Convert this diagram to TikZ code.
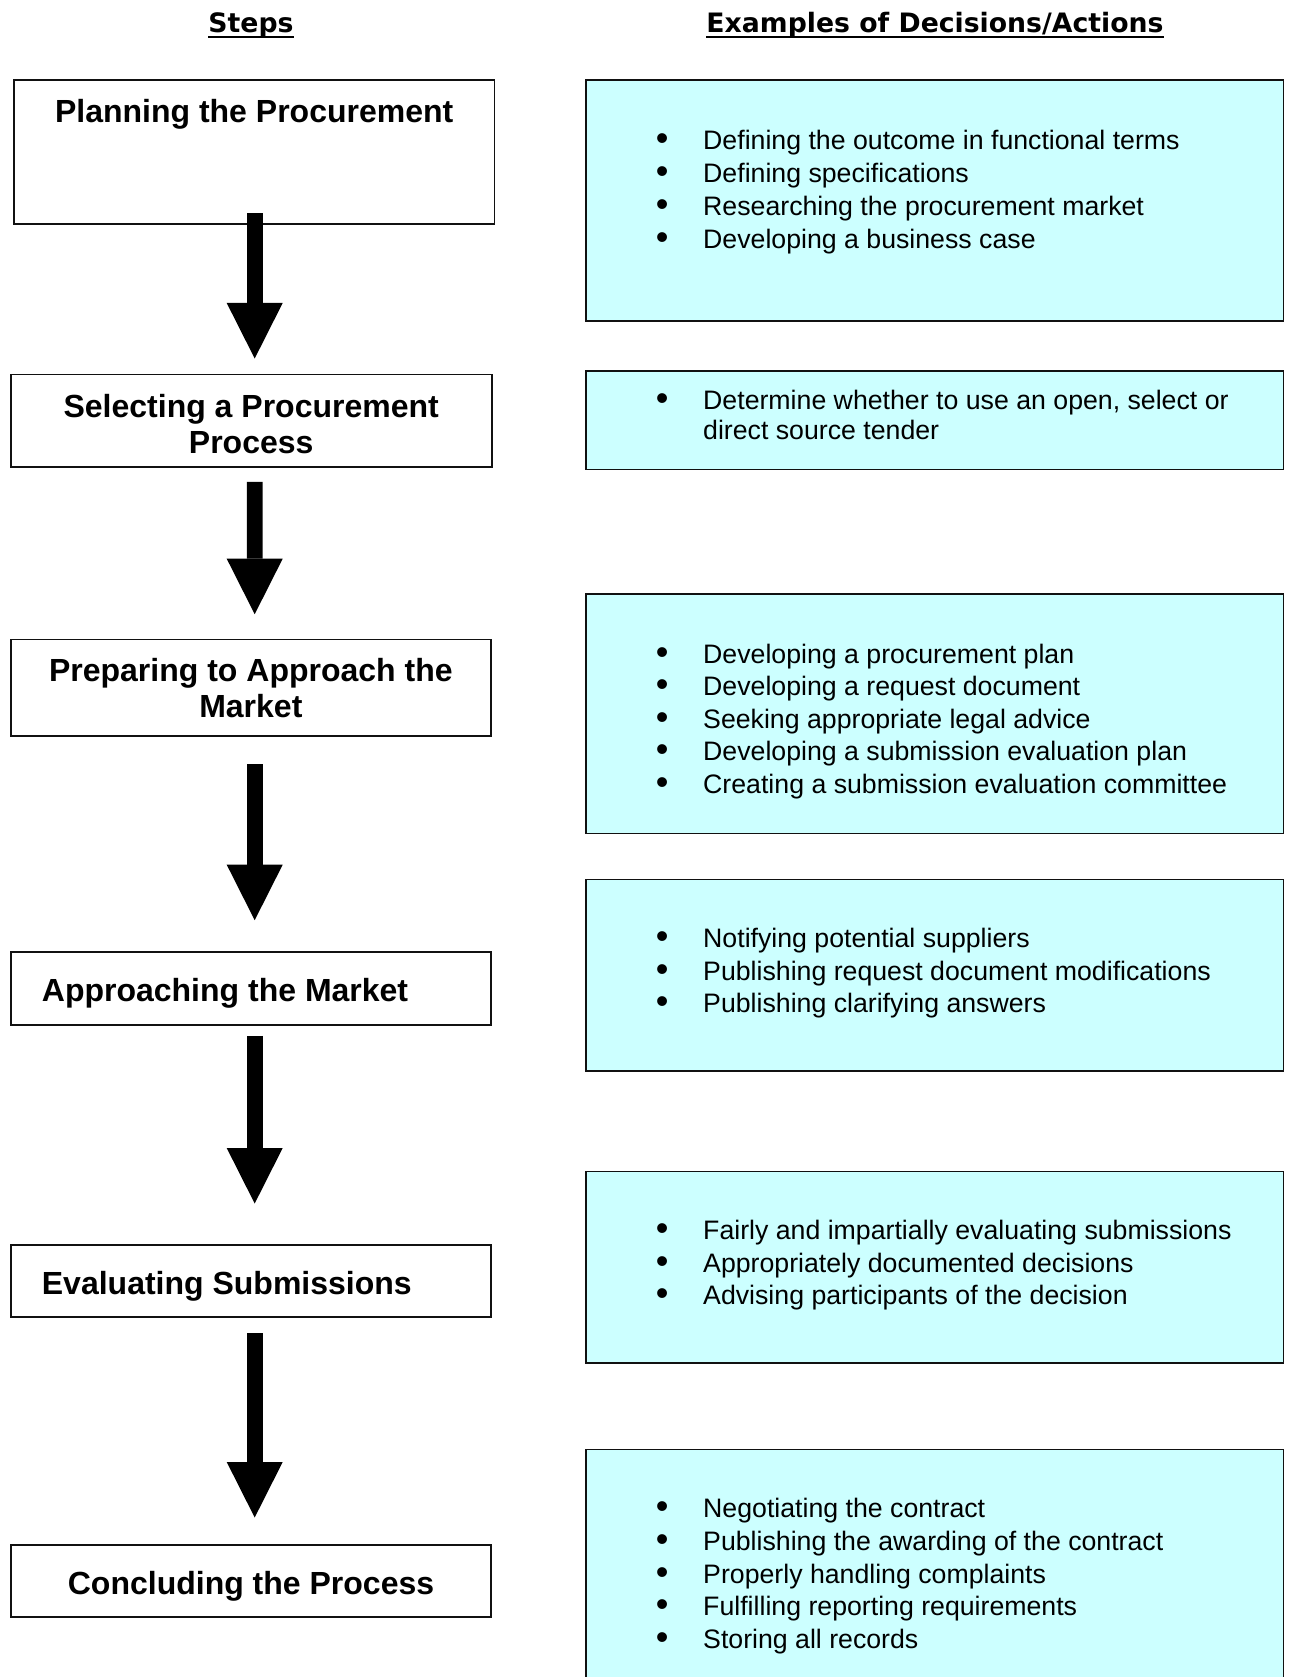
\documentclass[tikz,border=0pt]{standalone}
\usepackage{fontspec}
\setmainfont{Liberation Sans}
\newfontfamily\hdrfont{DejaVu Sans}
\usetikzlibrary{arrows.meta}
\definecolor{actfill}{HTML}{CCFFFF}
\definecolor{boxline}{HTML}{111111}
\newcommand{\bul}{\makebox[82pt][c]{\raisebox{-1pt}{\scalebox{1.35}{•}}}}
\newcommand{\nobul}{\hspace*{82pt}}
\newcommand{\ilist}[2]{\vtop{\baselineskip=#1\relax #2}}
\newcommand{\ctwo}[2]{\vtop{\baselineskip=36.8pt\relax\halign{\hfil##\hfil\cr#1\cr#2\cr}}}
\begin{document}
\begin{tikzpicture}[x=1pt,y=-1pt,
  stepbox/.style={draw=boxline, line width=1.6pt, fill=white, inner sep=0pt},
  actbox/.style={draw=boxline, line width=1.6pt, fill=actfill, inner sep=0pt,
    minimum width=697.4pt},
  hdr/.style={anchor=base, inner sep=0pt, font=\hdrfont\bfseries\fontsize{26.7}{30}\selectfont},
  ttl/.style={anchor=base, inner sep=0pt, font=\bfseries\fontsize{32}{36.8}\selectfont},
  itm/.style={anchor=base west, inner sep=0pt, font=\fontsize{26.7}{30.7}\selectfont},
  bigarrow/.style={line width=15.7pt, black,
    -{Triangle[length=55.5pt,width=56pt,line width=0pt]}}
]
\useasboundingbox (0,0) rectangle (1290,1677);
\clip (0,0) rectangle (1290,1677);
\fill[white] (0,0) rectangle (1290,1677);

% headers
\node[hdr] (hs) at (251,33) {Steps};
\node[hdr] (he) at (935,33) {Examples of Decisions/Actions};
\draw[line width=2pt] ([yshift=-4pt]hs.base west) -- ([yshift=-4pt]hs.base east);
\draw[line width=2pt] ([yshift=-4pt]he.base west) -- ([yshift=-4pt]he.base east);

% step boxes
\node[stepbox, minimum width=480.3pt, minimum height=144.3pt] (L1) at (254.15,152.15) {};
\node[stepbox, minimum width=481pt, minimum height=92.4pt] (L2) at (251.2,420.5) {};
\node[stepbox, minimum width=480.3pt, minimum height=96.4pt] (L3) at (250.85,687.5) {};
\node[stepbox, minimum width=480.3pt, minimum height=73.3pt] (L4) at (250.85,988.35) {};
\node[stepbox, minimum width=480.3pt, minimum height=71.7pt] (L5) at (250.85,1280.85) {};
\node[stepbox, minimum width=480.3pt, minimum height=71.7pt] (L6) at (250.85,1580.85) {};

% action boxes
\node[actbox, minimum height=240.7pt] (R1) at (934.9,200.55) {};
\node[actbox, minimum height=98.4pt] (R2) at (934.9,420.4) {};
\node[actbox, minimum height=239.6pt] (R3) at (934.9,713.5) {};
\node[actbox, minimum height=191.5pt] (R4) at (934.9,975.05) {};
\node[actbox, minimum height=191.5pt] (R5) at (934.9,1267.05) {};
\node[actbox, minimum height=250.6pt] (R6) at (934.9,1574.7) {};

% step titles
\node[ttl] (t1) at (254.15,123) {Planning the Procurement};
\node[ttl] (t2) at (251.2,417) {\ctwo{Selecting a Procurement}{Process}};
\node[ttl] (t3) at (250.85,681) {\ctwo{Preparing to Approach the}{Market}};
\node[ttl, anchor=base west] (t4) at (41.7,1001) {Approaching the Market};
\node[ttl, anchor=base west] (t5) at (41.7,1294) {Evaluating Submissions};
\node[ttl] (t6) at (251,1594) {Concluding the Process};

% action lists
\node[itm] (i1) at (621,150) {\ilist{32.7pt}{%
  \hbox{\bul Defining the outcome in functional terms}%
  \hbox{\bul Defining specifications}%
  \hbox{\bul Researching the procurement market}%
  \hbox{\bul Developing a business case}}};
\node[itm] (i2) at (621,409) {\ilist{30pt}{%
  \hbox{\bul Determine whether to use an open, select or}%
  \hbox{\nobul direct source tender}}};
\node[itm] (i3) at (621,663) {\ilist{32.6pt}{%
  \hbox{\bul Developing a procurement plan}%
  \hbox{\bul Developing a request document}%
  \hbox{\bul Seeking appropriate legal advice}%
  \hbox{\bul Developing a submission evaluation plan}%
  \hbox{\bul Creating a submission evaluation committee}}};
\node[itm] (i4) at (621,947.5) {\ilist{32.6pt}{%
  \hbox{\bul Notifying potential suppliers}%
  \hbox{\bul Publishing request document modifications}%
  \hbox{\bul Publishing clarifying answers}}};
\node[itm] (i5) at (621,1239.7) {\ilist{32.6pt}{%
  \hbox{\bul Fairly and impartially evaluating submissions}%
  \hbox{\bul Appropriately documented decisions}%
  \hbox{\bul Advising participants of the decision}}};
\node[itm] (i6) at (621,1517.8) {\ilist{32.6pt}{%
  \hbox{\bul Negotiating the contract}%
  \hbox{\bul Publishing the awarding of the contract}%
  \hbox{\bul Properly handling complaints}%
  \hbox{\bul Fulfilling reporting requirements}%
  \hbox{\bul Storing all records}}};

% arrows
\draw[bigarrow] ([xshift=0.55pt,yshift=11.6pt]L1.south) -- ([xshift=3.5pt,yshift=15pt]L2.north);
\draw[bigarrow] ([xshift=3.5pt,yshift=-14.3pt]L2.south) -- ([xshift=3.85pt,yshift=24.3pt]L3.north);
\draw[bigarrow] ([xshift=3.85pt,yshift=-27.6pt]L3.south) -- ([xshift=3.85pt,yshift=30.7pt]L4.north);
\draw[bigarrow] ([xshift=3.85pt,yshift=-10pt]L4.south) -- ([xshift=3.85pt,yshift=40.7pt]L5.north);
\draw[bigarrow] ([xshift=3.85pt,yshift=-15.6pt]L5.south) -- ([xshift=3.85pt,yshift=26.7pt]L6.north);
\end{tikzpicture}
\end{document}
